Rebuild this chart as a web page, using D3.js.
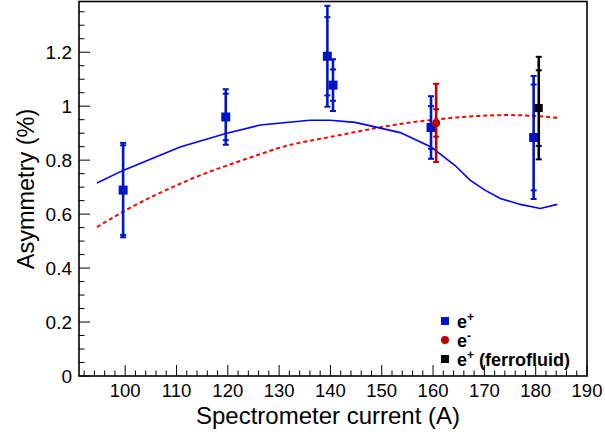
<!DOCTYPE html>
<html><head><meta charset="utf-8">
<script src="https://cdn.jsdelivr.net/npm/d3@7"></script>
<style>body{margin:0;background:#fff}svg{display:block}text{font-family:"Liberation Sans",Arial,sans-serif}</style>
</head><body>
<svg id="c" width="605" height="436"></svg>
<script>
// ---- data ----
const posX      = [99.6, 119.6, 139.4, 140.5, 159.6, 179.6];
const posY      = [0.689, 0.960, 1.185, 1.078, 0.921, 0.884];
const posErrTot = [0.175, 0.103, 0.187, 0.096, 0.116, 0.228];
const posErrStat= [0.166, 0.086, 0.145, 0.058, 0.079, 0.196];

const negX = [160.6], negY = [0.938], negErrTot = [0.145], negErrStat = [0.051];
const ferroX = [180.6], ferroY = [0.993], ferroErrTot = [0.19], ferroErrStat = [0.14];

const blueCurveX = [94.5, 99.6, 110.7, 119.6, 126.3, 136.0, 139.9, 144.8, 153.6, 159.6, 160.6, 164.3, 167.2, 170.1, 173.1, 177.0, 180.9, 184.2];
const blueCurveY = [0.715, 0.762, 0.849, 0.899, 0.930, 0.948, 0.948, 0.940, 0.902, 0.849, 0.834, 0.780, 0.726, 0.689, 0.658, 0.636, 0.621, 0.636];

const redCurveX = [94.5, 99.6, 112.6, 126.3, 129.6, 141.9, 153.6, 160.6, 175.0, 184.2];
const redCurveY = [0.552, 0.609, 0.728, 0.822, 0.843, 0.893, 0.934, 0.951, 0.967, 0.957];

const xTicks = [100, 110, 120, 130, 140, 150, 160, 170, 180, 190];
const yTicks = [0, 0.2, 0.4, 0.6, 0.8, 1.0, 1.2];

// ---- layout ----
const L = 79, R = 587, T = 1.5, B = 376;
const svg = d3.select("#c");
const x = d3.scaleLinear().domain([91, 190]).range([L, R]);
const y = d3.scaleLinear().domain([0, 1.388]).range([B, T]);

const g = svg.append("g");

// curves
const lineSmooth = d3.line().x(d => x(d[0])).y(d => y(d[1])).curve(d3.curveMonotoneX);
const line = d3.line().x(d => x(d[0])).y(d => y(d[1]));
g.append("path").datum(redCurveX.map((v, i) => [v, redCurveY[i]]))
  .attr("d", lineSmooth).attr("fill", "none").attr("stroke", "#ff0000")
  .attr("stroke-width", 2).attr("stroke-dasharray", "4,3");
g.append("path").datum(blueCurveX.map((v, i) => [v, blueCurveY[i]]))
  .attr("d", line).attr("fill", "none").attr("stroke", "#0000ff")
  .attr("stroke-width", 1.6);

// error bars + markers
function series(xs, ys, et, es, color, shape, size) {
  const d = xs.map((v, i) => ({x: v, y: ys[i], et: et[i], es: es[i]}));
  const s = g.append("g");
  s.selectAll("line.bar").data(d).join("line")
    .attr("x1", d => x(d.x)).attr("x2", d => x(d.x))
    .attr("y1", d => y(d.y + d.et)).attr("y2", d => y(d.y - d.et))
    .attr("stroke", color).attr("stroke-width", 2.6);
  const caps = [];
  d.forEach(p => { [p.y + p.et, p.y - p.et, p.y + p.es, p.y - p.es].forEach(v => caps.push({x: p.x, v})); });
  s.selectAll("line.cap").data(caps).join("line")
    .attr("x1", c => x(c.x) - 3).attr("x2", c => x(c.x) + 3)
    .attr("y1", c => y(c.v)).attr("y2", c => y(c.v))
    .attr("stroke", color).attr("stroke-width", 2);
  if (shape === "square") {
    s.selectAll("rect").data(d).join("rect")
      .attr("x", d => x(d.x) - size / 2).attr("y", d => y(d.y) - size / 2)
      .attr("width", size).attr("height", size).attr("fill", color);
  } else {
    s.selectAll("circle").data(d).join("circle")
      .attr("cx", d => x(d.x)).attr("cy", d => y(d.y)).attr("r", size / 2).attr("fill", color);
  }
}
series(posX, posY, posErrTot, posErrStat, "#0015c4", "square", 9);
series(negX, negY, negErrTot, negErrStat, "#c00000", "circle", 8);
series(ferroX, ferroY, ferroErrTot, ferroErrStat, "#000000", "square", 8);

// axes: ticks inside
const xMinor = d3.range(92, 190.01, 2);
const yMinor = d3.range(0, 1.388, 0.05);
const ax = svg.append("g");
ax.selectAll("line.xm").data(xMinor).join("line")
  .attr("x1", d => x(d)).attr("x2", d => x(d)).attr("y1", B).attr("y2", d => B - (Math.abs(d % 10) < 1e-6 ? 11 : 5.5))
  .attr("stroke", "#000").attr("stroke-width", 1);
ax.selectAll("line.ym").data(yMinor).join("line")
  .attr("y1", d => y(d)).attr("y2", d => y(d)).attr("x1", L).attr("x2", d => L + (Math.abs(Math.round(d * 20) % 4) === 0 ? 11 : 5.5))
  .attr("stroke", "#000").attr("stroke-width", 1);

ax.selectAll("text.xt").data(xTicks).join("text")
  .attr("x", d => x(d)).attr("y", 397).attr("text-anchor", "middle")
  .attr("font-size", 18.5).text(d => d);
ax.selectAll("text.yt").data(yTicks).join("text")
  .attr("x", 72).attr("y", d => y(d) + 7).attr("text-anchor", "end")
  .attr("font-size", 19).text(d => d3.format("~g")(d));

// frame
svg.append("rect").attr("x", L).attr("y", T).attr("width", R - L).attr("height", B - T)
  .attr("fill", "none").attr("stroke", "#000").attr("stroke-width", 1.6);

// titles
svg.append("text").attr("x", 328).attr("y", 424).attr("text-anchor", "middle")
  .attr("font-size", 24).text("Spectrometer current (A)");
svg.append("text").attr("transform", "translate(34,189) rotate(-90)").attr("text-anchor", "middle")
  .attr("font-size", 23.5).text("Asymmetry (%)");

// legend
const legend = [
  {base: "e", sup: "+", rest: "", color: "#0015c4", shape: "square"},
  {base: "e", sup: "-", rest: "", color: "#c00000", shape: "circle"},
  {base: "e", sup: "+", rest: " (ferrofluid)", color: "#000000", shape: "square"}
];
const lg = svg.append("g");
legend.forEach((e, i) => {
  const cy = 321 + i * 19;
  if (e.shape === "square") lg.append("rect").attr("x", 441).attr("y", cy - 4).attr("width", 8).attr("height", 8).attr("fill", e.color);
  else lg.append("circle").attr("cx", 445).attr("cy", cy).attr("r", 4).attr("fill", e.color);
  const t = lg.append("text").attr("x", 457).attr("y", cy + 7).attr("font-size", 18).attr("font-weight", "bold");
  t.append("tspan").text(e.base);
  t.append("tspan").attr("font-size", 12).attr("dy", -7).text(e.sup);
  if (e.rest) t.append("tspan").attr("dy", 7).text(e.rest);
});
</script>
</body></html>
